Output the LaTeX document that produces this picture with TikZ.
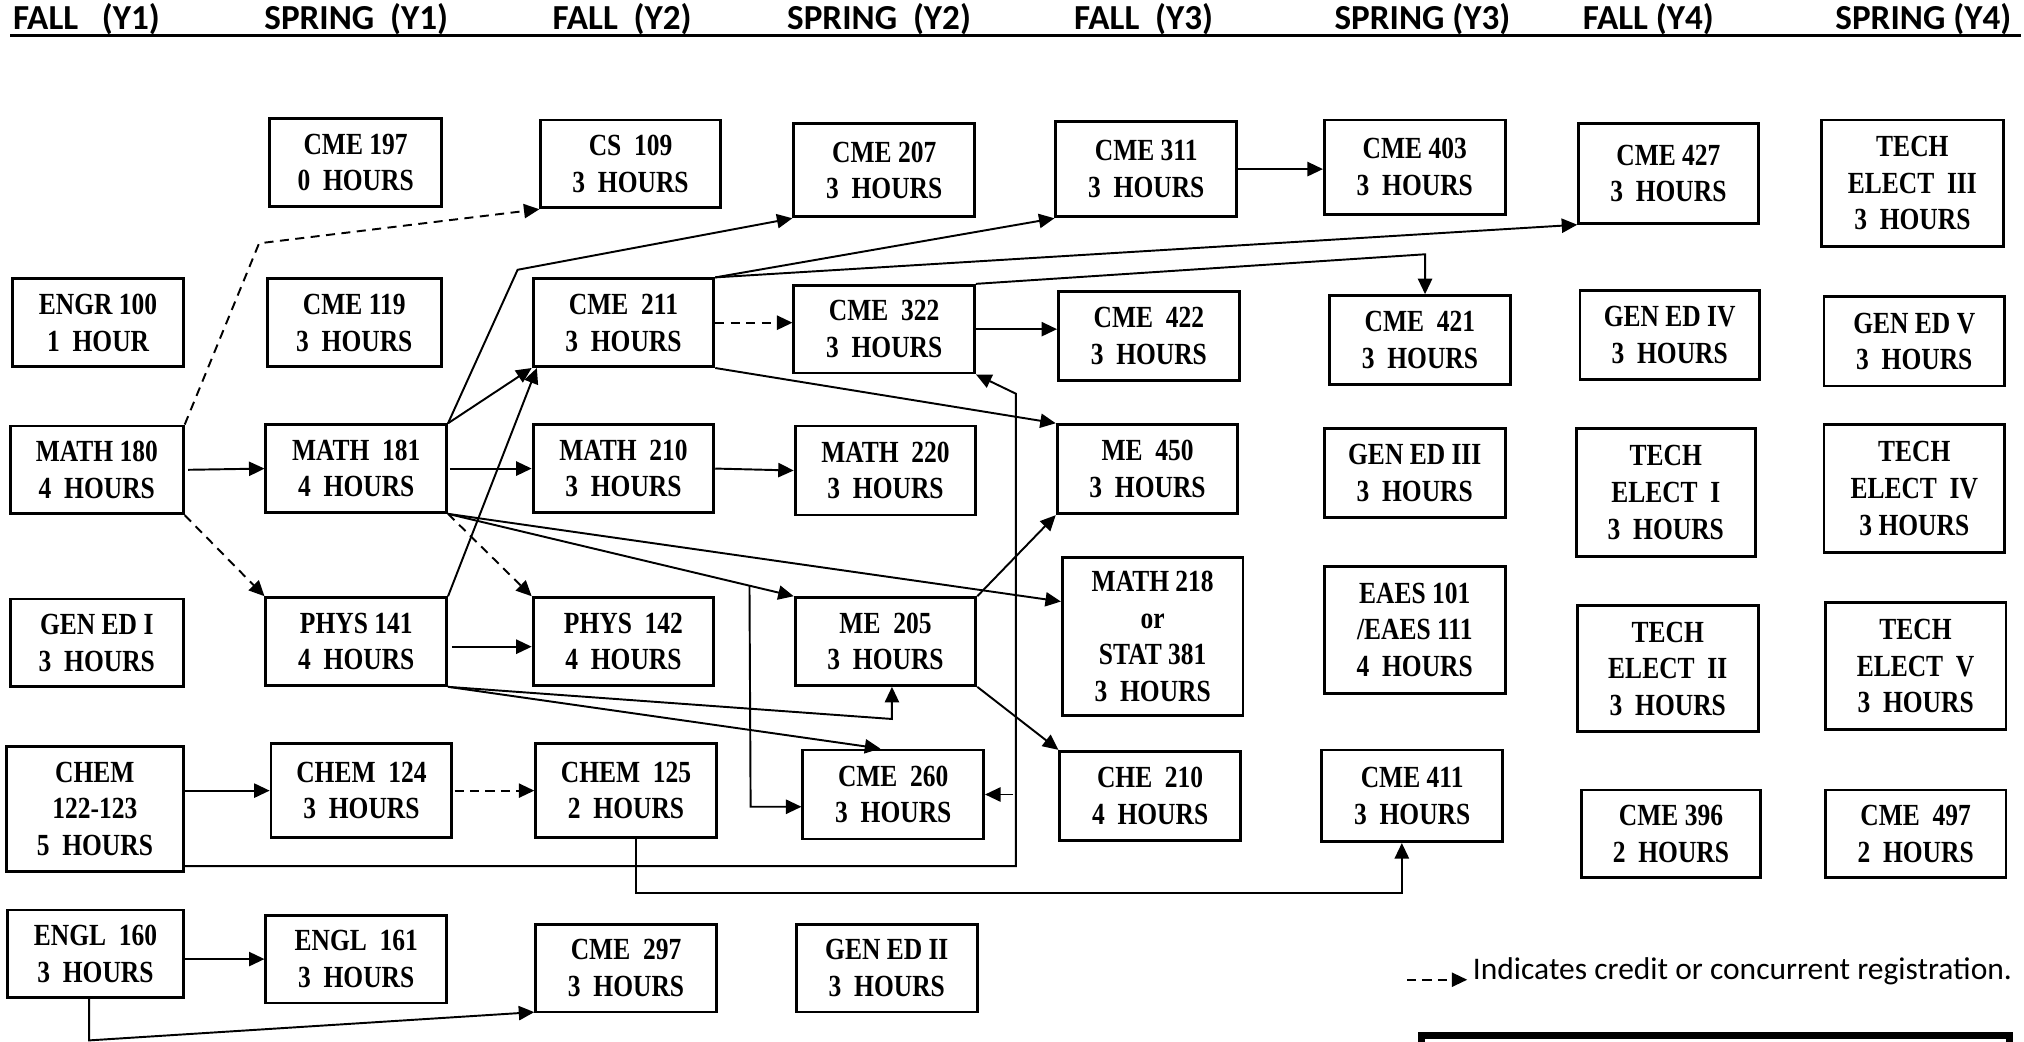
\documentclass[tikz,border=0pt]{standalone}
\usepackage{fontspec}
\usetikzlibrary{arrows.meta,calc}
\newfontfamily\boxfont{Liberation Serif}[FakeStretch=0.83]
\newfontfamily\headfont{Carlito}
\newfontfamily\legfont{Carlito}
\newcommand\crsbox[6]{\node[cbox, minimum width={(#4-#2)*0.5pt}, minimum height={(#5-#3)*0.5pt}] (#1) at ({(#2+#4)/2},{(#3+#5)/2}) {#6};}
\tikzset{
  cbox/.style={draw, line width=1.1pt, inner sep=0pt, align=center,
    font=\boxfont\bfseries\fontsize{11.9}{14.2}\selectfont},
  conn/.style={line width=0.75pt, -{Triangle[length=6pt,width=5.5pt]}},
  dsh/.style={conn, dash pattern=on 3.5pt off 2.5pt},
  hd/.style={anchor=base, inner sep=0pt, font=\headfont\bfseries\fontsize{13.6}{16}\selectfont},
}
\begin{document}
\begin{tikzpicture}[x=0.5pt,y=-0.5pt]
\useasboundingbox (0,0) rectangle (1568,807);
\clip (0,0) rectangle (1568,807);
% headers
\node[hd] (h1) at (67,22.5) {FALL~~~(Y1)};
\node[hd] (h2) at (276,22.5) {SPRING~~(Y1)};
\node[hd] (h3) at (482,22.5) {FALL~~(Y2)};
\node[hd] (h4) at (681,22.5) {SPRING~~(Y2)};
\node[hd] (h5) at (886,22.5) {FALL~~(Y3)};
\node[hd] (h6) at (1102,22.5) {SPRING (Y3)};
\node[hd] (h7) at (1277,22.5) {FALL (Y4)};
\node[hd] (h8) at (1490,22.5) {SPRING (Y4)};
\coordinate (ulA) at (8,27.5);
\coordinate (ulB) at (1566,27.5);
\draw[line width=1.4pt] (ulA) -- (ulB);
% column 1
\crsbox{engr100}{10}{216}{142}{284}{ENGR 100\\1~~HOUR}
\crsbox{math180}{8}{330}{142}{398}{MATH 180\\4~~HOURS}
\crsbox{gened1}{8}{464}{142}{532}{GEN ED I\\3~~HOURS}
\crsbox{chem122}{5}{578}{142}{675}{CHEM\\122-123\\5~~HOURS}
\crsbox{engl160}{6}{705}{142}{773}{ENGL~~160\\3~~HOURS}
% column 2
\crsbox{cme197}{209}{92}{342}{160}{CME 197\\0~~HOURS}
\crsbox{cme119}{207}{216}{342}{284}{CME 119\\3~~HOURS}
\crsbox{math181}{206}{329}{346}{397}{MATH~~181\\4~~HOURS}
\crsbox{phys141}{206}{463}{346}{531}{PHYS 141\\4~~HOURS}
\crsbox{chem124}{210}{576}{350}{649}{CHEM~~124\\3~~HOURS}
\crsbox{engl161}{206}{709}{346}{777}{ENGL~~161\\3~~HOURS}
% column 3
\crsbox{cs109}{419}{93}{558}{161}{CS~~109\\3~~HOURS}
\crsbox{cme211}{413}{216}{553}{284}{CME~~211\\3~~HOURS}
\crsbox{math210}{413}{329}{553}{397}{MATH~~210\\3~~HOURS}
\crsbox{phys142}{413}{463}{553}{531}{PHYS~~142\\4~~HOURS}
\crsbox{chem125}{415}{576}{555}{649}{CHEM~~125\\2~~HOURS}
\crsbox{cme297}{415}{716}{555}{784}{CME~~297\\3~~HOURS}
% column 4
\crsbox{cme207}{615}{96}{755}{168}{CME 207\\3~~HOURS}
\crsbox{cme322}{615}{221}{755}{289}{CME~~322\\3~~HOURS}
\crsbox{math220}{616}{330}{756}{399}{MATH~~220\\3~~HOURS}
\crsbox{me205}{616}{463}{756}{531}{ME~~205\\3~~HOURS}
\crsbox{cme260}{622}{581}{762}{650}{CME~~260\\3~~HOURS}
\crsbox{gened2}{617}{716}{757}{784}{GEN ED II\\3~~HOURS}
% column 5
\crsbox{cme311}{818}{94}{958}{168}{CME 311\\3~~HOURS}
\crsbox{cme422}{820}{226}{960}{295}{CME~~422\\3~~HOURS}
\crsbox{me450}{819}{329}{959}{398}{ME~~450\\3~~HOURS}
\crsbox{math218}{823}{432}{963}{554}{MATH 218\\or\\STAT 381\\3~~HOURS}
\crsbox{che210}{821}{582}{961}{651}{CHE~~210\\4~~HOURS}
% column 6
\crsbox{cme403}{1026}{93}{1166}{166}{CME 403\\3~~HOURS}
\crsbox{cme421}{1030}{229}{1170}{298}{CME~~421\\3~~HOURS}
\crsbox{gened3}{1026}{332}{1166}{401}{GEN ED III\\3~~HOURS}
\crsbox{eaes}{1026}{439}{1166}{537}{EAES 101\\/EAES 111\\4~~HOURS}
\crsbox{cme411}{1024}{581}{1164}{652}{CME 411\\3~~HOURS}
% column 7
\crsbox{cme427}{1223}{96}{1362}{173}{CME 427\\3~~HOURS}
\crsbox{gened4}{1224}{225}{1363}{294}{GEN ED IV\\3~~HOURS}
\crsbox{tech1}{1221}{332}{1360}{431}{TECH\\ELECT~~I\\3~~HOURS}
\crsbox{tech2}{1222}{469}{1362}{567}{TECH\\ELECT~~II\\3~~HOURS}
\crsbox{cme396}{1225}{612}{1364}{680}{CME 396\\2~~HOURS}
% column 8
\crsbox{tech3}{1411}{93}{1552}{191}{TECH\\ELECT~~III\\3~~HOURS}
\crsbox{gened5}{1413}{230}{1553}{299}{GEN ED V\\3~~HOURS}
\crsbox{tech4}{1413}{329}{1553}{428}{TECH\\ELECT~~IV\\3 HOURS}
\crsbox{tech5}{1414}{467}{1554}{565}{TECH\\ELECT~~V\\3~~HOURS}
\crsbox{cme497}{1414}{612}{1554}{680}{CME~~497\\2~~HOURS}
% helper points
\coordinate (m0) at (200.7,188.5);
\coordinate (m1) at (401,209);
\coordinate (p1) at (691,557);
\coordinate (v2) at (581.5,625);
\coordinate (c1) at (787,671);
\coordinate (c2) at (787,305);
\coordinate (d1) at (493,692);
\coordinate (d2) at (1086,692);
\coordinate (e1) at (69,806);
\coordinate (k1) at (1104,197);
\coordinate (v1) at ($(math181.south east)!0.872!(me205.north west)$);
% connectors
\draw[conn, shorten <=1.3pt] (math180.east) -- (math181.west);
\draw[dsh] (math180.north east) -- (m0) -- (cs109.south west);
\draw[dsh] (math180.south east) -- (phys141.north west);
\draw[conn] (math181.north east) -- (cme211.south west);
\draw[conn] (math181.north east) -- (m1) -- (cme207.south west);
\draw[conn, shorten <=0.7pt] (math181.east) -- (math210.west);
\draw[dsh] (math181.south east) -- (phys142.north west);
\draw[conn] (math181.south east) -- (me205.north west);
\draw[conn] (math181.south east) -- ([yshift=13.5pt]math218.west);
\draw[conn] (v1) -- (v2) -- (cme260.west |- v2);
\draw[conn] (phys141.north east) -- ([xshift=2pt]cme211.south west);
\draw[conn, shorten <=1.5pt] ([yshift=-2pt]phys141.east) -- ([yshift=-2pt]phys142.west);
\draw[conn] (phys141.south east) -- (p1) -- (me205.south -| p1);
\draw[conn] (phys141.south east) -- ([xshift=-5pt]cme260.north);
\draw[conn] (chem122.east |- chem124.west) -- (chem124.west);
\draw[dsh, shorten <=0.5pt] (chem124.east) -- (chem125.west);
\draw[conn] (chem122.east |- c1) -- (c1) -- (c2) -- (cme322.south east);
\draw[conn, shorten <=1pt] (c1 |- cme260.east) -- (cme260.east);
\draw[conn] (chem125.south -| d1) -- (d1) -- (d2) -- (cme411.south -| d2);
\draw[conn] (engl160.east |- engl161.west) -- (engl161.west);
\draw[conn] (engl160.south -| e1) -- (e1) -- ([yshift=0.5pt]cme297.south west);
\draw[dsh] (cme211.east) -- (cme322.west |- cme211.east);
\draw[conn] (cme211.north east) -- (cme311.south west);
\draw[conn] (cme211.north east) -- (cme427.south west);
\draw[conn] (cme211.south east) -- (me450.north west);
\draw[conn] (cme322.north east) -- (k1) -- (cme421.north -| k1);
\draw[conn] (cme322.east) -- (cme422.west |- cme322.east);
\draw[conn] (cme311.east) -- (cme403.west |- cme311.east);
\draw[conn] (math210.east) -- (math220.west);
\draw[conn] (me205.north east) -- (me450.south west);
\draw[conn] (me205.south east) -- (che210.north west);
% legend
\node[anchor=base east, inner sep=0pt, font=\legfont\fontsize{12.2}{14}\selectfont] (legtxt) at (1559,759) {Indicates credit or concurrent registration.};
\coordinate (legs) at (1090,759);
\draw[dsh] (legs) -- ([xshift=-2pt]legtxt.west |- legs);
\coordinate (tb1) at (1101,830);
\coordinate (tb2) at (1101,802);
\coordinate (tb3) at (1557,802);
\coordinate (tb4) at (1557,830);
\draw[line width=2.6pt] (tb1) -- (tb2) -- (tb3) -- (tb4);
\end{tikzpicture}
\end{document}
